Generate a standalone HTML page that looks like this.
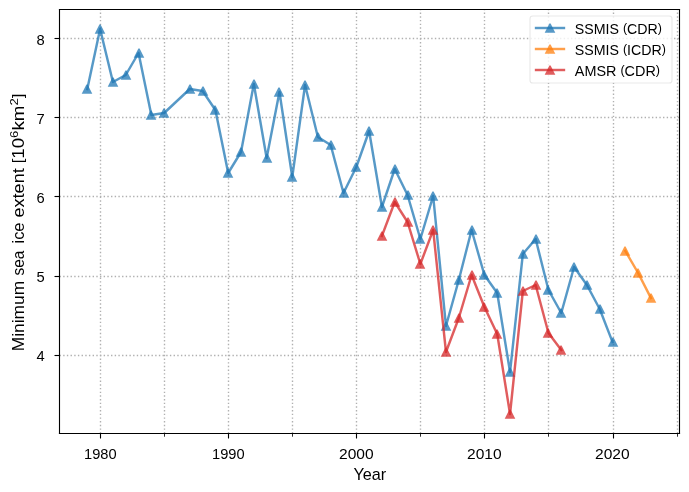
<!DOCTYPE html>
<html lang="en"><head><meta charset="utf-8"><title>Minimum sea ice extent</title>
<style>html,body{margin:0;padding:0;background:#fff;}body{width:689px;height:492px;overflow:hidden;font-family:'Liberation Sans', sans-serif;}svg{display:block;will-change:transform;}text{font-family:'Liberation Sans', sans-serif;fill:#000;}</style>
</head><body>
<svg width="689" height="492" viewBox="0 0 689 492">
<rect x="0" y="0" width="689" height="492" fill="#ffffff"/>
<g stroke="#b0b0b0" stroke-width="1.39" stroke-dasharray="1.39 2.29" fill="none">
<path d="M100.5 433.50V9.50"/>
<path d="M164.5 433.50V9.50"/>
<path d="M228.5 433.50V9.50"/>
<path d="M292.5 433.50V9.50"/>
<path d="M356.5 433.50V9.50"/>
<path d="M420.5 433.50V9.50"/>
<path d="M484.5 433.50V9.50"/>
<path d="M548.5 433.50V9.50"/>
<path d="M613.5 433.50V9.50"/>
<path d="M677.5 433.50V9.50"/>
<path d="M59.50 355.5H679.50"/>
<path d="M59.50 276.5H679.50"/>
<path d="M59.50 196.5H679.50"/>
<path d="M59.50 117.5H679.50"/>
<path d="M59.50 38.5H679.50"/>
</g>
<g>
<polyline fill="none" stroke="#1f77b4" stroke-opacity="0.75" stroke-width="2.45" stroke-linejoin="round" stroke-linecap="square" points="87.30,89.00 100.11,29.00 112.92,82.00 125.73,75.00 138.54,53.00 151.35,115.00 164.16,113.00 189.78,89.00 202.59,91.00 215.40,110.00 228.21,173.00 241.02,152.00 253.83,84.00 266.64,158.00 279.45,92.00 292.26,177.00 305.07,85.00 317.88,137.00 330.69,145.00 343.50,193.00 356.31,167.00 369.12,131.00 381.93,207.00 394.74,169.00 407.55,195.00 420.36,239.00 433.17,196.00 445.98,326.00 458.79,280.00 471.60,230.00 484.41,275.00 497.22,293.00 510.03,372.00 522.84,254.00 535.65,239.00 548.46,290.00 561.27,313.00 574.08,267.00 586.89,285.00 599.70,309.00 612.51,342.00"/>
<path fill="#1f77b4" fill-opacity="0.75" d="M86.38 84.52H87.62L92.29 93.86H81.71ZM99.38 24.52H100.62L105.29 33.86H94.71ZM112.38 77.52H113.62L118.29 86.86H107.71ZM125.38 70.52H126.62L131.29 79.86H120.71ZM138.38 48.52H139.62L144.29 57.86H133.71ZM150.38 110.52H151.62L156.29 119.86H145.71ZM163.38 108.52H164.62L169.29 117.86H158.71ZM189.38 84.52H190.62L195.29 93.86H184.71ZM202.38 86.52H203.62L208.29 95.86H197.71ZM214.38 105.52H215.62L220.29 114.86H209.71ZM227.38 168.52H228.62L233.29 177.86H222.71ZM240.38 147.52H241.62L246.29 156.86H235.71ZM253.38 79.52H254.62L259.29 88.86H248.71ZM266.38 153.52H267.62L272.29 162.86H261.71ZM278.38 87.52H279.62L284.29 96.86H273.71ZM291.38 172.52H292.62L297.29 181.86H286.71ZM304.38 80.52H305.62L310.29 89.86H299.71ZM317.38 132.52H318.62L323.29 141.86H312.71ZM330.38 140.52H331.62L336.29 149.86H325.71ZM343.38 188.52H344.62L349.29 197.86H338.71ZM355.38 162.52H356.62L361.29 171.86H350.71ZM368.38 126.52H369.62L374.29 135.86H363.71ZM381.38 202.52H382.62L387.29 211.86H376.71ZM394.38 164.52H395.62L400.29 173.86H389.71ZM407.38 190.52H408.62L413.29 199.86H402.71ZM419.38 234.52H420.62L425.29 243.86H414.71ZM432.38 191.52H433.62L438.29 200.86H427.71ZM445.38 321.52H446.62L451.29 330.86H440.71ZM458.38 275.52H459.62L464.29 284.86H453.71ZM471.38 225.52H472.62L477.29 234.86H466.71ZM483.38 270.52H484.62L489.29 279.86H478.71ZM496.38 288.52H497.62L502.29 297.86H491.71ZM509.38 367.52H510.62L515.29 376.86H504.71ZM522.38 249.52H523.62L528.29 258.86H517.71ZM535.38 234.52H536.62L541.29 243.86H530.71ZM547.38 285.52H548.62L553.29 294.86H542.71ZM560.38 308.52H561.62L566.29 317.86H555.71ZM573.38 262.52H574.62L579.29 271.86H568.71ZM586.38 280.52H587.62L592.29 289.86H581.71ZM599.38 304.52H600.62L605.29 313.86H594.71ZM612.38 337.52H613.62L618.29 346.86H607.71Z"/>
</g>
<g>
<polyline fill="none" stroke="#ff7f0e" stroke-opacity="0.75" stroke-width="2.45" stroke-linejoin="round" stroke-linecap="square" points="625.32,251.00 638.13,273.00 650.94,298.00"/>
<path fill="#ff7f0e" fill-opacity="0.75" d="M624.38 246.52H625.62L630.29 255.86H619.71ZM637.38 268.52H638.62L643.29 277.86H632.71ZM650.38 293.52H651.62L656.29 302.86H645.71Z"/>
</g>
<g>
<polyline fill="none" stroke="#d62728" stroke-opacity="0.75" stroke-width="2.45" stroke-linejoin="round" stroke-linecap="square" points="381.93,236.00 394.74,202.00 407.55,222.00 420.36,264.00 433.17,230.00 445.98,352.00 458.79,318.00 471.60,275.00 484.41,307.00 497.22,334.00 510.03,414.00 522.84,291.00 535.65,285.00 548.46,333.00 561.27,350.00"/>
<path fill="#d62728" fill-opacity="0.75" d="M381.38 231.52H382.62L387.29 240.86H376.71ZM394.38 197.52H395.62L400.29 206.86H389.71ZM407.38 217.52H408.62L413.29 226.86H402.71ZM419.38 259.52H420.62L425.29 268.86H414.71ZM432.38 225.52H433.62L438.29 234.86H427.71ZM445.38 347.52H446.62L451.29 356.86H440.71ZM458.38 313.52H459.62L464.29 322.86H453.71ZM471.38 270.52H472.62L477.29 279.86H466.71ZM483.38 302.52H484.62L489.29 311.86H478.71ZM496.38 329.52H497.62L502.29 338.86H491.71ZM509.38 409.52H510.62L515.29 418.86H504.71ZM522.38 286.52H523.62L528.29 295.86H517.71ZM535.38 280.52H536.62L541.29 289.86H530.71ZM547.38 328.52H548.62L553.29 337.86H542.71ZM560.38 345.52H561.62L566.29 354.86H555.71Z"/>
</g>
<g stroke="#000" stroke-width="1.11" fill="none" stroke-linecap="square">
<path d="M59.5 9.5V433.5"/>
<path d="M679.5 9.5V433.5"/>
<path d="M59.5 9.5H679.5"/>
<path d="M59.5 433.5H679.5"/>
</g>
<g stroke="#000" stroke-width="1.11" fill="none">
<path d="M100.5 433.5V438.50"/>
<path d="M228.5 433.5V438.50"/>
<path d="M356.5 433.5V438.50"/>
<path d="M484.5 433.5V438.50"/>
<path d="M613.5 433.5V438.50"/>
<path d="M59.5 355.5H54.50"/>
<path d="M59.5 276.5H54.50"/>
<path d="M59.5 196.5H54.50"/>
<path d="M59.5 117.5H54.50"/>
<path d="M59.5 38.5H54.50"/>
</g>
<g stroke="#000" stroke-width="0.83" fill="none">
<path d="M164.5 433.5V436.70"/>
<path d="M292.5 433.5V436.70"/>
<path d="M420.5 433.5V436.70"/>
<path d="M548.5 433.5V436.70"/>
<path d="M677.5 433.5V436.70"/>
</g>
<text x="84.00" y="459.10" font-size="14.70" textLength="32.60" lengthAdjust="spacingAndGlyphs">1980</text>
<text x="212.00" y="459.10" font-size="14.70" textLength="32.60" lengthAdjust="spacingAndGlyphs">1990</text>
<text x="339.00" y="459.10" font-size="14.70" textLength="34.60" lengthAdjust="spacingAndGlyphs">2000</text>
<text x="467.00" y="459.10" font-size="14.70" textLength="34.60" lengthAdjust="spacingAndGlyphs">2010</text>
<text x="595.00" y="459.10" font-size="14.70" textLength="34.60" lengthAdjust="spacingAndGlyphs">2020</text>
<text x="36.40" y="361.10" font-size="14.70" textLength="8.20" lengthAdjust="spacingAndGlyphs">4</text>
<text x="36.40" y="282.10" font-size="14.70" textLength="8.20" lengthAdjust="spacingAndGlyphs">5</text>
<text x="36.40" y="203.10" font-size="14.70" textLength="8.20" lengthAdjust="spacingAndGlyphs">6</text>
<text x="36.40" y="124.10" font-size="14.70" textLength="8.20" lengthAdjust="spacingAndGlyphs">7</text>
<text x="36.40" y="45.10" font-size="14.70" textLength="8.20" lengthAdjust="spacingAndGlyphs">8</text>
<text x="353.40" y="480.00" font-size="16.20" textLength="32.80" lengthAdjust="spacingAndGlyphs">Year</text>
<text transform="translate(23.70 351.30) rotate(-90)" font-size="16.20" textLength="70.60" lengthAdjust="spacingAndGlyphs">Minimum</text>
<text transform="translate(23.70 275.50) rotate(-90)" font-size="16.20" textLength="25.00" lengthAdjust="spacingAndGlyphs">sea</text>
<text transform="translate(23.70 243.50) rotate(-90)" font-size="16.20" textLength="21.00" lengthAdjust="spacingAndGlyphs">ice</text>
<text transform="translate(23.70 217.50) rotate(-90)" font-size="16.20" textLength="49.20" lengthAdjust="spacingAndGlyphs">extent</text>
<text transform="translate(23.70 163.30) rotate(-90)" font-size="16.20" textLength="69.60" lengthAdjust="spacingAndGlyphs"><tspan font-size="14.20" dy="-1.20">[</tspan><tspan dy="1.20">10</tspan><tspan font-size="11.34" dy="-6.20">6</tspan><tspan dy="6.20">km</tspan><tspan font-size="11.34" dy="-6.20">2</tspan><tspan font-size="14.20" dy="5.00">]</tspan></text>
<rect x="530" y="16" width="142" height="67" rx="2.8" ry="2.8" fill="#ffffff" fill-opacity="0.8" stroke="#cccccc" stroke-opacity="0.45" stroke-width="1.11"/>
<path d="M536.05 28.00H563.95" stroke="#1f77b4" stroke-opacity="0.75" stroke-width="2.45" stroke-linecap="square" fill="none"/>
<path fill="#1f77b4" fill-opacity="0.75" d="M549.38 23.52H550.62L555.29 32.86H544.71Z"/>
<path d="M536.05 49.00H563.95" stroke="#ff7f0e" stroke-opacity="0.75" stroke-width="2.45" stroke-linecap="square" fill="none"/>
<path fill="#ff7f0e" fill-opacity="0.75" d="M549.38 44.52H550.62L555.29 53.86H544.71Z"/>
<path d="M536.05 70.00H563.95" stroke="#d62728" stroke-opacity="0.75" stroke-width="2.45" stroke-linecap="square" fill="none"/>
<path fill="#d62728" fill-opacity="0.75" d="M549.38 65.52H550.62L555.29 74.86H544.71Z"/>
<text x="574.80" y="34.00" font-size="14.70" textLength="87.20" lengthAdjust="spacingAndGlyphs">SSMIS <tspan font-size="12.9" dy="-2">(</tspan><tspan dy="2">CDR</tspan><tspan font-size="12.9" dy="-2">)</tspan></text>
<text x="574.80" y="55.00" font-size="14.70" textLength="91.20" lengthAdjust="spacingAndGlyphs">SSMIS <tspan font-size="12.9" dy="-2">(</tspan><tspan dy="2">ICDR</tspan><tspan font-size="12.9" dy="-2">)</tspan></text>
<text x="574.80" y="76.00" font-size="14.70" textLength="85.20" lengthAdjust="spacingAndGlyphs">AMSR <tspan font-size="12.9" dy="-2">(</tspan><tspan dy="2">CDR</tspan><tspan font-size="12.9" dy="-2">)</tspan></text>
</svg>
</body></html>
